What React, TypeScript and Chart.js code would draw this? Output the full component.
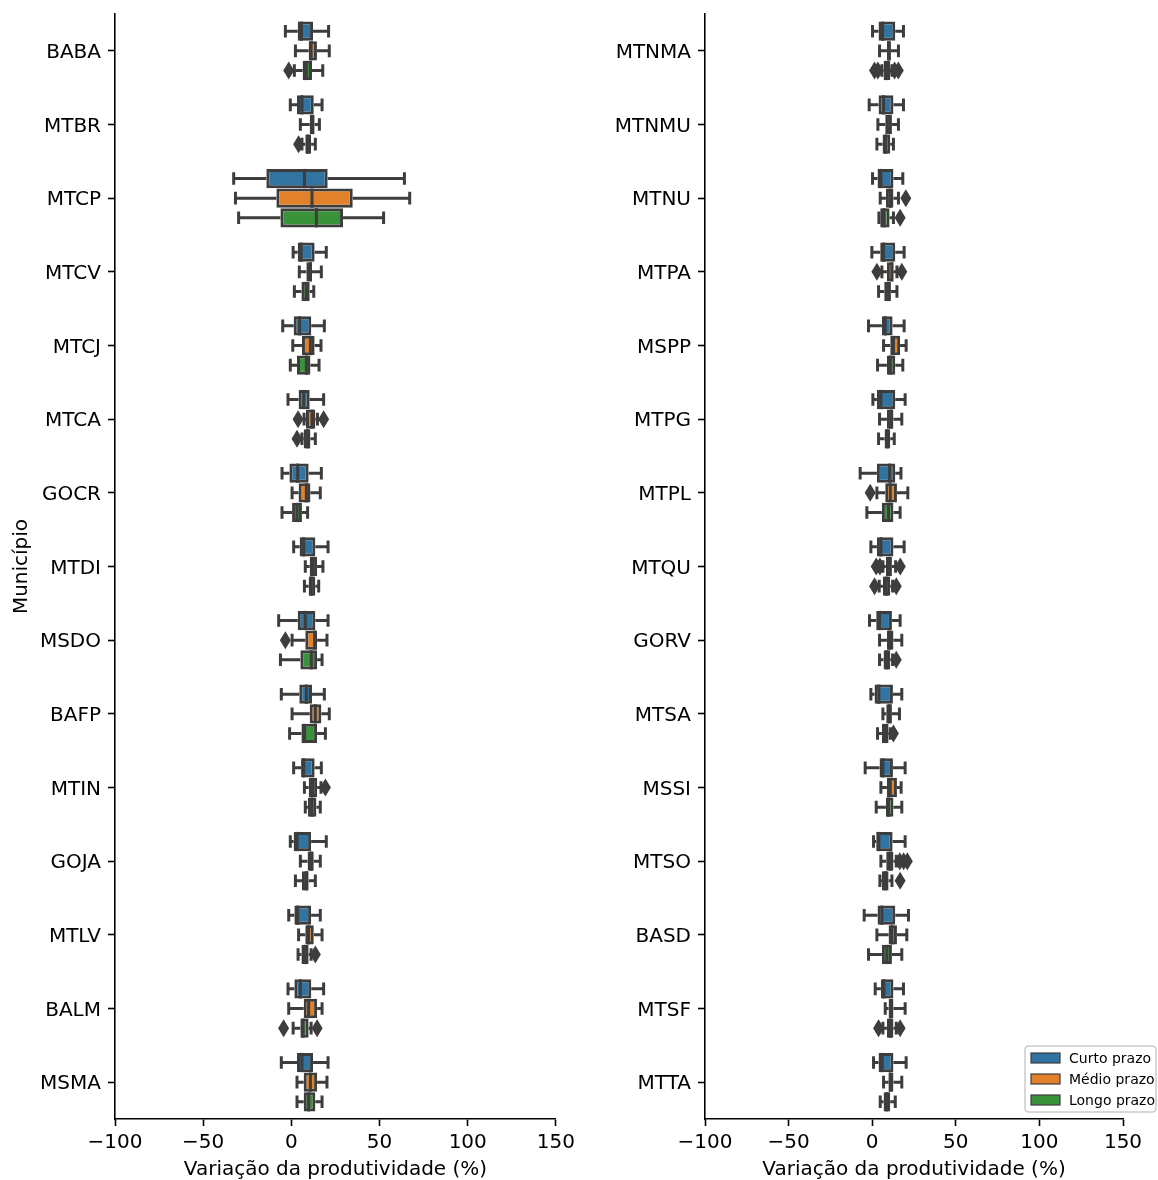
import React, { useEffect, useRef } from 'react';
import { Chart, registerables } from 'chart.js';

Chart.register(...registerables);

// ---------------- DATA ----------------
const leftCategories = ['BABA', 'MTBR', 'MTCP', 'MTCV', 'MTCJ', 'MTCA', 'GOCR', 'MTDI', 'MSDO', 'BAFP', 'MTIN', 'GOJA', 'MTLV', 'BALM', 'MSMA'];
const rightCategories = ['MTNMA', 'MTNMU', 'MTNU', 'MTPA', 'MSPP', 'MTPG', 'MTPL', 'MTQU', 'GORV', 'MTSA', 'MSSI', 'MTSO', 'BASD', 'MTSF', 'MTTA'];
const seriesNames = ['Curto prazo', 'Médio prazo', 'Longo prazo'];
const seriesColors = ['#3274a1', '#e1812c', '#3a923a'];
const xMin = -100;
const xMax = 150;
const xStep = 50;
const xTitle = 'Variação da produtividade (%)';
const yTitle = 'Município';

// each row: [lower whisker, Q1, median, Q3, upper whisker]
const leftCurto = [
  [-3.4, 3.6, 5.7, 12.3, 21.1],
  [-0.6, 3.2, 6.0, 12.7, 17.4],
  [-32.7, -14.2, 7.4, 20.6, 64.1],
  [1.0, 3.6, 5.5, 13.2, 19.8],
  [-4.9, 1.3, 4.7, 11.3, 18.7],
  [-1.9, 4.1, 7.0, 10.4, 18.3],
  [-5.3, -1.1, 3.6, 9.8, 17.0],
  [1.3, 4.7, 7.0, 13.6, 20.8],
  [-7.2, 3.6, 7.9, 13.6, 20.8],
  [-5.7, 4.5, 8.5, 11.7, 18.7],
  [1.3, 5.5, 7.0, 13.2, 17.0],
  [-0.6, 1.3, 3.2, 11.2, 19.8],
  [-1.5, 1.7, 3.6, 11.2, 16.4],
  [-1.9, 1.7, 5.1, 11.3, 18.3],
  [-5.7, 3.2, 6.0, 12.3, 20.8],
];
const leftMedio = [
  [2.3, 9.8, 11.2, 14.5, 21.5],
  [5.1, 10.4, 11.7, 13.2, 15.9],
  [-31.7, -8.5, 11.7, 34.8, 67.1],
  [4.5, 8.5, 10.8, 11.7, 17.0],
  [0.8, 6.0, 10.8, 13.2, 16.8],
  [7.2, 8.3, 11.7, 13.6, 14.8],
  [0.4, 4.1, 8.5, 10.8, 16.4],
  [7.9, 10.4, 12.3, 14.6, 17.9],
  [0.4, 7.9, 13.2, 14.6, 20.2],
  [0.4, 10.4, 13.6, 17.0, 21.5],
  [7.4, 9.8, 12.0, 14.6, 16.8],
  [5.1, 9.2, 11.2, 12.7, 16.4],
  [4.1, 7.9, 9.8, 12.7, 17.4],
  [-1.5, 7.0, 9.8, 14.6, 17.4],
  [3.2, 7.0, 10.8, 14.6, 20.2],
];
const leftLongo = [
  [1.7, 6.4, 8.5, 11.7, 17.8],
  [6.0, 7.9, 9.4, 11.2, 13.6],
  [-29.9, -6.2, 14.2, 29.3, 52.3],
  [1.7, 5.7, 8.3, 10.4, 12.7],
  [-0.6, 3.2, 8.5, 10.8, 15.7],
  [6.0, 7.0, 9.2, 10.8, 13.6],
  [-5.3, 0.4, 3.2, 6.0, 9.2],
  [7.4, 9.8, 11.3, 13.6, 15.5],
  [-6.2, 5.1, 11.3, 14.6, 17.4],
  [-1.0, 5.7, 7.5, 14.6, 19.3],
  [7.9, 9.4, 11.7, 14.2, 16.4],
  [2.3, 6.0, 8.5, 9.8, 13.6],
  [3.8, 5.7, 7.9, 9.8, 11.2],
  [1.0, 5.1, 6.6, 9.8, 11.2],
  [3.2, 7.0, 9.8, 13.6, 17.4],
];
// outliers: [category index, value]
const leftCurtoOut: number[][] = [];
const leftMedioOut = [[5, 3.8], [5, 18.3], [8, -3.4], [10, 19.3]];
const leftLongoOut = [[0, -1.5], [1, 4.1], [5, 3.2], [12, 13.6], [13, -4.4], [13, 14.6]];

const rightCurto = [
  [0.2, 3.8, 6.2, 13.8, 18.7],
  [-1.8, 3.8, 6.8, 12.7, 18.7],
  [0.2, 3.2, 5.2, 12.7, 18.3],
  [-0.2, 4.8, 6.8, 13.8, 19.1],
  [-2.2, 5.8, 7.8, 12.2, 19.1],
  [0.4, 2.8, 5.2, 13.8, 19.7],
  [-7.2, 2.8, 10.4, 13.8, 17.2],
  [-0.8, 2.8, 5.2, 12.7, 19.1],
  [-1.6, 2.4, 4.4, 11.8, 16.7],
  [-0.8, 1.4, 4.0, 12.4, 17.7],
  [-4.2, 4.4, 6.4, 12.4, 19.7],
  [0.8, 2.4, 4.0, 12.2, 19.7],
  [-4.8, 3.2, 5.8, 13.8, 21.7],
  [1.8, 5.2, 7.0, 12.7, 18.7],
  [0.8, 3.8, 6.0, 12.7, 20.3],
];
const rightMedio = [
  [4.4, 8.8, 10.0, 11.2, 15.7],
  [3.4, 7.8, 10.4, 11.8, 15.7],
  [4.8, 8.2, 10.8, 12.7, 15.7],
  [5.8, 8.8, 11.8, 12.7, 14.8],
  [6.8, 10.8, 12.7, 16.7, 20.3],
  [4.4, 8.8, 11.2, 12.7, 17.7],
  [2.8, 7.8, 10.8, 14.8, 21.3],
  [6.4, 8.2, 10.0, 11.8, 14.0],
  [4.4, 8.8, 10.4, 12.7, 17.7],
  [6.4, 8.4, 10.4, 11.8, 16.3],
  [5.2, 8.8, 10.8, 14.8, 17.3],
  [5.2, 8.4, 10.8, 12.7, 14.4],
  [2.8, 9.8, 11.8, 14.8, 20.7],
  [7.8, 9.8, 11.2, 12.7, 19.7],
  [6.8, 9.8, 10.8, 12.7, 17.7],
];
const rightLongo = [
  [5.8, 6.8, 8.8, 10.8, 11.8],
  [2.8, 6.2, 8.0, 10.8, 12.7],
  [4.0, 4.8, 7.0, 10.4, 12.7],
  [3.8, 7.2, 9.8, 11.2, 14.8],
  [3.2, 8.8, 10.8, 13.8, 18.3],
  [3.8, 7.4, 9.0, 10.8, 13.2],
  [-3.2, 5.8, 9.8, 12.7, 16.7],
  [4.2, 6.4, 8.4, 10.8, 12.2],
  [4.4, 6.8, 8.8, 10.8, 12.2],
  [3.2, 5.8, 7.8, 9.8, 10.8],
  [2.4, 8.2, 9.8, 12.7, 17.7],
  [4.6, 5.8, 7.8, 9.8, 11.8],
  [-2.2, 5.8, 8.8, 11.8, 17.7],
  [6.4, 8.8, 10.8, 12.7, 14.4],
  [4.8, 6.8, 8.8, 10.8, 13.8],
];
const rightCurtoOut: number[][] = [];
const rightMedioOut = [[2, 20.1], [3, 2.8], [3, 17.7], [6, -1.2], [7, 2.4], [7, 4.6], [7, 16.8], [11, 16.5], [11, 18.8], [11, 21.0]];
const rightLongoOut = [[0, 1.4], [0, 3.4], [0, 13.4], [0, 15.6], [2, 16.7], [7, 1.4], [7, 14.4], [8, 14.4], [9, 12.7], [11, 16.7], [13, 3.8], [13, 16.7]];

// ---------------- STYLE ----------------
const EDGE = '#3d3d3d';
const FONT = "'DejaVu Sans', sans-serif";
const CAT_PCT = 0.8;
const BAR_PCT = 0.98;

const boxPlugin = {
  id: 'boxWhiskers',
  afterDatasetDraw(chart: any, args: any) {
    const ds = chart.data.datasets[args.index];
    if (!ds.stats) return;
    const ctx = chart.ctx;
    const xs = chart.scales.x;
    const els = args.meta.data;
    ctx.save();
    ctx.strokeStyle = EDGE;
    ctx.lineWidth = 3;
    ctx.lineCap = 'butt';
    els.forEach((el: any, i: number) => {
      const s = ds.stats[i];
      if (!s) return;
      const { y, height } = el.getProps(['y', 'height'], true);
      const h = Math.abs(height);
      const [wl, q1, med, q3, wr] = s.map((v: number) => xs.getPixelForValue(v));
      ctx.beginPath();
      ctx.moveTo(wl, y);
      ctx.lineTo(q1, y);
      ctx.moveTo(q3, y);
      ctx.lineTo(wr, y);
      ctx.stroke();
      const c = h * 0.25 + 1.5;
      ctx.beginPath();
      ctx.moveTo(wl, y - c);
      ctx.lineTo(wl, y + c);
      ctx.moveTo(wr, y - c);
      ctx.lineTo(wr, y + c);
      ctx.stroke();
      ctx.beginPath();
      ctx.moveTo(med, y - h / 2);
      ctx.lineTo(med, y + h / 2);
      ctx.stroke();
    });
    // outliers (thin diamonds)
    ctx.fillStyle = EDGE;
    (ds.outliers || []).forEach(([i, v]: number[]) => {
      const el = els[i];
      if (!el) return;
      const { y } = el.getProps(['y'], true);
      const x = xs.getPixelForValue(v);
      ctx.beginPath();
      ctx.moveTo(x, y - 9);
      ctx.lineTo(x + 5.5, y);
      ctx.lineTo(x, y + 9);
      ctx.lineTo(x - 5.5, y);
      ctx.closePath();
      ctx.fill();
    });
    ctx.restore();
  },
};

const legendPlugin = {
  id: 'boxLegend',
  afterDraw(chart: any, _args: any, opts: any) {
    if (!opts || !opts.show) return;
    const ctx = chart.ctx;
    const w = 131;
    const h = 66;
    const x0 = chart.width - 2 - w;
    const y0 = chart.chartArea.bottom - 7 - h;
    ctx.save();
    const r = 4;
    ctx.beginPath();
    ctx.moveTo(x0 + r, y0);
    ctx.lineTo(x0 + w - r, y0);
    ctx.quadraticCurveTo(x0 + w, y0, x0 + w, y0 + r);
    ctx.lineTo(x0 + w, y0 + h - r);
    ctx.quadraticCurveTo(x0 + w, y0 + h, x0 + w - r, y0 + h);
    ctx.lineTo(x0 + r, y0 + h);
    ctx.quadraticCurveTo(x0, y0 + h, x0, y0 + h - r);
    ctx.lineTo(x0, y0 + r);
    ctx.quadraticCurveTo(x0, y0, x0 + r, y0);
    ctx.closePath();
    ctx.fillStyle = 'rgba(255,255,255,0.8)';
    ctx.fill();
    ctx.strokeStyle = '#cccccc';
    ctx.lineWidth = 1.5;
    ctx.stroke();
    ctx.font = `14px ${FONT}`;
    ctx.textBaseline = 'middle';
    ctx.textAlign = 'left';
    const bars = chart.data.datasets.filter((d: any) => d.stats);
    bars.forEach((d: any, k: number) => {
      const cy = y0 + 12 + k * 21;
      ctx.fillStyle = d.backgroundColor;
      ctx.fillRect(x0 + 6, cy - 5, 29, 10);
      ctx.strokeStyle = EDGE;
      ctx.lineWidth = 1.2;
      ctx.strokeRect(x0 + 6, cy - 5, 29, 10);
      ctx.fillStyle = '#000';
      ctx.fillText(d.label, x0 + 44, cy + 1);
    });
    ctx.restore();
  },
};

type Props = {
  categories: string[];
  stats: number[][][];
  outs: number[][][];
  left: number;
  width: number;
  yWidth: number;
  padRight: number;
  showYTitle: boolean;
  showLegend: boolean;
};

function BoxChart(p: Props) {
  const ref = useRef<HTMLCanvasElement>(null);
  useEffect(() => {
    const barSets = seriesNames.map((name, k) => ({
      label: name,
      data: p.stats[k].map((s) => [s[1], s[3]]),
      stats: p.stats[k],
      outliers: p.outs[k],
      backgroundColor: seriesColors[k],
      borderColor: EDGE,
      borderWidth: 3,
      borderSkipped: false,
      categoryPercentage: CAT_PCT,
      barPercentage: BAR_PCT,
    }));
    const tickFont = { family: FONT, size: 20 };
    const chart = new Chart(ref.current!, {
      type: 'bar',
      data: {
        labels: p.categories,
        datasets: barSets as any,
      },
      options: {
        indexAxis: 'y',
        responsive: false,
        animation: false,
        devicePixelRatio: 1,
        layout: { padding: { top: 14, right: p.padRight, left: 0, bottom: 0 } },
        plugins: {
          legend: { display: false },
          tooltip: { enabled: false },
          boxLegend: { show: p.showLegend },
        } as any,
        scales: {
          x: {
            type: 'linear',
            min: xMin,
            max: xMax,
            ticks: {
              stepSize: xStep,
              color: '#000',
              font: tickFont,
              padding: 5,
              callback: (v: any) => String(v).replace('-', '\u2212'),
            },
            grid: {
              display: true,
              drawOnChartArea: false,
              drawTicks: true,
              tickLength: 7,
              tickWidth: 1.6,
              tickColor: '#000',
            },
            border: { display: true, color: '#000', width: 1.6 },
            title: {
              display: true,
              text: xTitle,
              color: '#000',
              font: tickFont,
              padding: { top: 6, bottom: -2 },
            },
            afterFit: (s: any) => {
              s.height = 61;
            },
          },
          y: {
            type: 'category',
            offset: true,
            ticks: { color: '#000', font: tickFont, padding: 7, labelOffset: 2 },
            grid: {
              display: true,
              offset: false,
              drawOnChartArea: false,
              drawTicks: true,
              tickLength: 7,
              tickWidth: 1.6,
              tickColor: '#000',
            },
            border: { display: true, color: '#000', width: 1.6 },
            title: {
              display: p.showYTitle,
              text: yTitle,
              color: '#000',
              font: tickFont,
              padding: { top: 10, bottom: 0 },
            },
            afterFit: (s: any) => {
              s.width = p.yWidth;
              s.paddingTop = 0;
              s.paddingBottom = 0;
            },
          },
        } as any,
      },
      plugins: [boxPlugin, legendPlugin] as any,
    });
    return () => chart.destroy();
  }, []);
  return (
    <canvas
      ref={ref}
      width={p.width}
      height={1180}
      style={{ position: 'absolute', left: p.left, top: 0, display: 'block' }}
    />
  );
}

export default function App() {
  return (
    <div style={{ position: 'absolute', left: 0, top: 0, width: 1158, height: 1180, background: '#fff' }}>
      <BoxChart
        categories={leftCategories}
        stats={[leftCurto, leftMedio, leftLongo]}
        outs={[leftCurtoOut, leftMedioOut, leftLongoOut]}
        left={0}
        width={580}
        yWidth={115}
        padRight={24}
        showYTitle={true}
        showLegend={false}
      />
      <BoxChart
        categories={rightCategories}
        stats={[rightCurto, rightMedio, rightLongo]}
        outs={[rightCurtoOut, rightMedioOut, rightLongoOut]}
        left={580}
        width={578}
        yWidth={125}
        padRight={35}
        showYTitle={false}
        showLegend={true}
      />
    </div>
  );
}
